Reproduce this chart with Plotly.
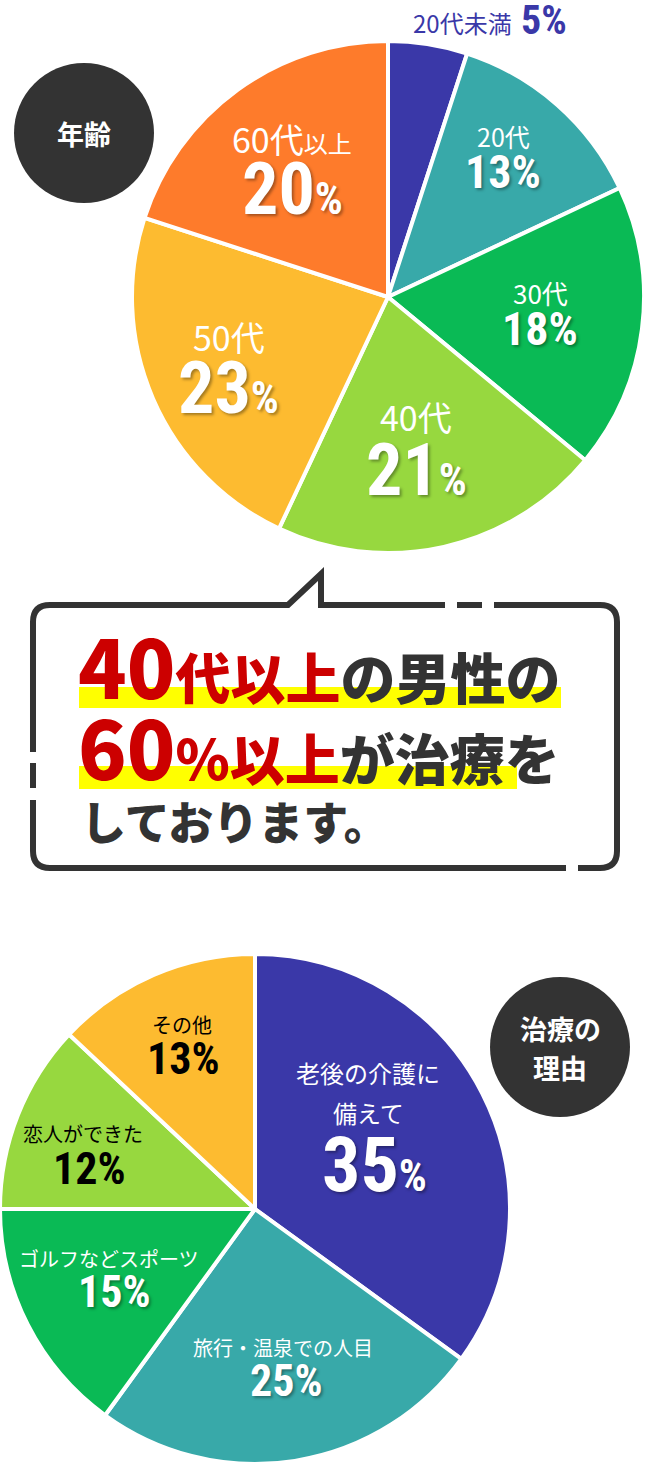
import plotly.graph_objects as go

# ---------------- data ----------------
age_labels = ["20代未満", "20代", "30代", "40代", "50代", "60代以上"]
age_values = [5, 13, 18, 21, 23, 20]
age_title = "年齢"

reason_labels = ["老後の介護に備えて", "旅行・温泉での人目", "ゴルフなどスポーツ", "恋人ができた", "その他"]
reason_values = [35, 25, 15, 12, 13]
reason_title = ["治療の", "理由"]

bubble_red_1, bubble_dark_1 = "40代以上", "の男性の"
bubble_red_2, bubble_dark_2 = "60%以上", "が治療を"
bubble_line_3 = "しております。"

# ---------------- styles ----------------
W, H = 646, 1465
BLUE, TEAL, GREEN, LGREEN, YELLOW, ORANGE = "#3a38a8", "#38a9a9", "#0aba55", "#97d83f", "#fdbb30", "#fe7b2b"
age_colors = [BLUE, TEAL, GREEN, LGREEN, YELLOW, ORANGE]
reason_colors = [BLUE, TEAL, GREEN, LGREEN, YELLOW]
DARK = "#333333"
RED = "#cc0000"
JP = "Noto Sans CJK JP, Noto Sans, sans-serif"
NUM = "Roboto Condensed, Oswald, Liberation Sans Narrow, DejaVu Sans Condensed, Roboto, sans-serif"
SHADOW = "2px 2px 3px rgba(0,0,0,0.35)"


def px(x):
    return x / W


def py(y):
    return 1 - y / H


fig = go.Figure()
fig.add_trace(go.Pie(
    labels=age_labels, values=age_values, sort=False, direction="clockwise", rotation=0,
    marker=dict(colors=age_colors, line=dict(color="white", width=4)),
    textinfo="none", hoverinfo="skip", showlegend=False,
    domain=dict(x=[px(132), px(644)], y=[py(553), py(41)]),
))
fig.add_trace(go.Pie(
    labels=reason_labels, values=reason_values, sort=False, direction="clockwise", rotation=0,
    marker=dict(colors=reason_colors, line=dict(color="white", width=4)),
    textinfo="none", hoverinfo="skip", showlegend=False,
    domain=dict(x=[0, px(510)], y=[py(1464), py(954)]),
))

annotations = []


def ann(x, y, text, size, color="white", family=JP, weight="normal", xanchor="center",
        yanchor="middle", shadow=None):
    f = dict(family=family, size=size, color=color, weight=weight)
    if shadow:
        f["shadow"] = shadow
    annotations.append(dict(
        x=px(x), y=py(y), xref="paper", yref="paper", text=text, showarrow=False,
        xanchor=xanchor, yanchor=yanchor, font=f, borderpad=0,
    ))


def pct(v, pct_size=None):
    if pct_size:
        return f"{v}<span style='font-size:{pct_size}px'>%</span>"
    return f"{v}%"


# ---- top pie labels ----
ann(513, 22, age_labels[0], 24, color=BLUE, xanchor="right")
ann(520, 21, pct(age_values[0]), 40, color=BLUE, family=NUM, weight="bold", xanchor="left")
# (label xy, label size, number xy, number size, pct size)
age_layout = [
    None,
    ((503, 136), 25, (503, 172), 46, None),
    ((540, 293), 26, (540, 329), 46, None),
    ((416, 417), 34, (416, 470), 72, 44),
    ((229, 336), 34, (228, 388), 72, 44),
    ((292, 138), 34, (292, 190), 72, 44),
]
for i in range(1, len(age_labels)):
    (lx, ly), ls, (nx, ny), ns, ps = age_layout[i]
    lab = age_labels[i]
    if len(lab) > 3:
        lab = lab[:3] + f"<span style='font-size:{int(ls*0.72)}px'>{lab[3:]}</span>"
    ann(lx, ly, lab, ls)
    ann(nx, ny, pct(age_values[i], ps), ns, family=NUM, weight="bold", shadow=SHADOW)

# ---- bottom pie labels ----
reason_layout = [
    ([(368, 1072), (368, 1112)], 24, (374, 1165), 76, 44, "white"),
    ([(283, 1347)], 20, (286, 1381), 44, None, "white"),
    ([(109, 1258)], 20, (114, 1292), 44, None, "white"),
    ([(83, 1133)], 20, (89, 1169), 44, None, "black"),
    ([(182, 1024)], 20, (183, 1059), 44, None, "black"),
]
for i, lab in enumerate(reason_labels):
    lpos, ls, (nx, ny), ns, ps, col = reason_layout[i]
    parts = [lab[:6], lab[6:]] if len(lpos) == 2 else [lab]
    for (lx, ly), part in zip(lpos, parts):
        ann(lx, ly, part, ls, color=col)
    ann(nx, ny, pct(reason_values[i], ps), ns, color=col, family=NUM, weight="bold",
        shadow=SHADOW if col == "white" else None)

# ---- title circles ----
shapes = []


def circle(cx, cy, r):
    shapes.append(dict(type="circle", xref="paper", yref="paper", x0=px(cx - r), x1=px(cx + r),
                       y0=py(cy + r), y1=py(cy - r), fillcolor=DARK, line=dict(width=0)))


circle(84, 133, 70)
ann(84, 133, age_title, 27, weight="bold")
circle(560, 1047, 70)
ann(560, 1028, reason_title[0], 27, weight="bold")
ann(560, 1067, reason_title[1], 27, weight="bold")


# ---- speech bubble ----
def path_str(cmds):
    out = []
    for c in cmds:
        op = c[0]
        pts = c[1:]
        coords = " ".join(f"{px(pts[k]):.5f},{py(pts[k+1]):.5f}" for k in range(0, len(pts), 2))
        out.append(f"{op} {coords}")
    return " ".join(out)


L, R, T, B, RR = 33, 617, 605, 868, 17
paths = [
    [("M", 566, B), ("L", L + RR, B), ("Q", L, B, L, B - RR), ("L", L, 800)],
    [("M", L, 788), ("L", L, 763)],
    [("M", L, 752), ("L", L, T + RR), ("Q", L, T, L + RR, T), ("L", 288, T), ("L", 321, 574),
     ("L", 321, T), ("L", 445, T)],
    [("M", 457, T), ("L", 482, T)],
    [("M", 494, T), ("L", R - RR, T), ("Q", R, T, R, T + RR), ("L", R, B - RR), ("Q", R, B, R - RR, B),
     ("L", 578, B)],
]
for p in paths:
    shapes.append(dict(type="path", xref="paper", yref="paper", path=path_str(p),
                       line=dict(color=DARK, width=6), fillcolor="rgba(0,0,0,0)"))

# yellow highlights
for x0, x1, y0, y1 in [(79, 561, 687, 708), (79, 517, 766, 789)]:
    shapes.append(dict(type="rect", xref="paper", yref="paper", x0=px(x0), x1=px(x1),
                       y0=py(y1), y1=py(y0), fillcolor="#ffff00", line=dict(width=0), layer="below"))

line1 = (f"<span style='color:{RED};font-size:80px'>{bubble_red_1[:2]}</span>"
         f"<span style='color:{RED}'>{bubble_red_1[2:]}</span>{bubble_dark_1}")
line2 = (f"<span style='color:{RED};font-size:80px'>{bubble_red_2[:2]}</span>"
         f"<span style='color:{RED}'>{bubble_red_2[2:]}</span>{bubble_dark_2}")
ann(77, 664, line1, 55, color=DARK, weight=900, xanchor="left")
ann(77, 745, line2, 55, color=DARK, weight=900, xanchor="left")
ann(80, 820, bubble_line_3, 45, color=DARK, weight=900, xanchor="left")

fig.update_layout(
    width=W, height=H, margin=dict(l=0, r=0, t=0, b=0),
    paper_bgcolor="white", plot_bgcolor="white", showlegend=False,
    annotations=annotations, shapes=shapes,
)

fig.write_html("out.html", config={"displayModeBar": False},
               post_script="document.body.style.margin='0';document.body.style.overflow='hidden';")
